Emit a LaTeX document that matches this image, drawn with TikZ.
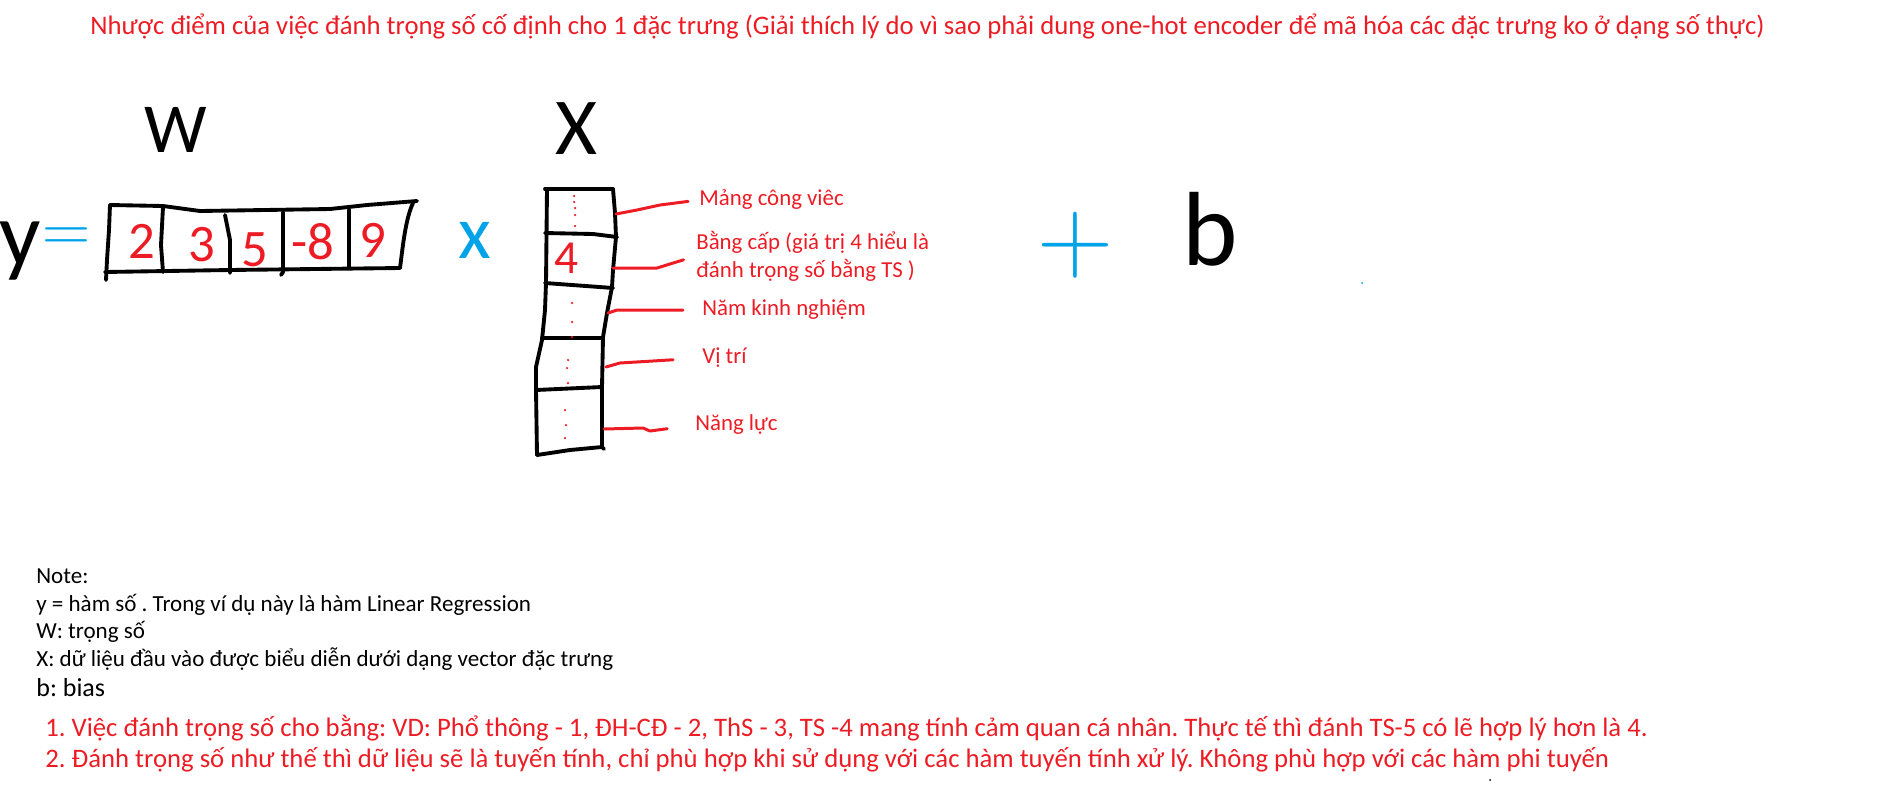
\documentclass[tikz,border=0pt]{standalone}
\usepackage{fontspec}
\setmainfont{Carlito}
\newfontfamily\thinfont{Latin Modern Roman}
\usepackage{xcolor}
\usepackage{tikz}
\usetikzlibrary{positioning, calc}
\definecolor{paintred}{RGB}{237,28,36}
\definecolor{paintblue}{RGB}{0,162,232}
\frenchspacing

\begin{document}
\begin{tikzpicture}[
		hand/.style={line width=2.2pt, line cap=round, line join=round},
		leader/.style={paintred, line width=1.7pt, line cap=round, line join=round},
		txt/.style={anchor=west, inner sep=0pt},
		lbl/.style={txt, paintred, font=\fontsize{13}{15.9}\selectfont},
		note/.style={txt, font=\fontsize{13.1}{16}\selectfont},
		big/.style={txt, paintred, font=\fontsize{15.2}{18}\selectfont},
		digit/.style={paintred, inner sep=0pt, font=\fontsize{30}{30}\selectfont},
		glyph/.style={inner sep=0pt}
	]
			\useasboundingbox (0,0) rectangle (37.74,-15.9);
			\node[big] (title) at (1.80,-0.52) {Nhược điểm của việc đánh trọng số cố định cho 1 đặc trưng (Giải thích lý do vì sao phải dung one-hot encoder để mã hóa các đặc trưng ko ở dạng số thực)};

			\node[glyph, font=\fontsize{40}{40}\selectfont] (wlbl) at (3.52,-2.60) {W};
			\node[glyph, font=\fontsize{46}{46}\selectfont] (xlbl) at (11.52,-2.58) {X};
			\node[glyph, font=\fontsize{52}{52}\selectfont] (ylbl) at (0.40,-5.02) {y};
			\node[glyph, paintblue, font=\thinfont\fontsize{38}{38}\selectfont] (eq) at (1.34,-4.80) {=};
			\node[glyph, paintblue, font=\fontsize{43}{43}\selectfont] (times) at (9.50,-4.80) {x};
			\node[glyph, paintblue, font=\thinfont\fontsize{60}{60}\selectfont] (plus) at (21.50,-4.90) {+};
			\node[glyph, font=\fontsize{60}{60}\selectfont] (blbl) at (24.20,-4.58) {b};

			\begin{scope}
				\draw[hand] (2.20,-4.10) -- (3.26,-4.12) -- (4.00,-4.22) -- (6.60,-4.18) -- (7.34,-4.10) -- (8.34,-4.02);
				\draw[hand] (8.26,-4.06) .. controls (8.10,-4.40) and (8.05,-5.00) .. (8.00,-5.36);
				\draw[hand] (2.10,-5.44) -- (4.60,-5.40) -- (8.00,-5.36);
				\draw[hand] (2.20,-4.10) -- (2.18,-4.60) -- (2.14,-5.20) -- (2.12,-5.60);
				\draw[hand] (3.26,-4.14) -- (3.22,-4.90) -- (3.26,-5.44);
				\draw[hand] (4.50,-4.30) -- (4.60,-4.80) -- (4.60,-5.46);
				\draw[hand] (5.66,-4.24) -- (5.66,-5.44) -- (5.62,-5.50);
				\draw[hand] (6.98,-4.20) -- (6.98,-5.34);
				\node[digit] (w1) at (2.83,-4.83) {2};
				\node[digit] (w2) at (4.04,-4.90) {3};
				\node[digit] (w3) at (5.10,-4.99) {5};
				\node[digit] (w4) at (6.26,-4.84) {-8};
				\node[digit] (w5) at (7.46,-4.80) {9};
			\end{scope}

			\begin{scope}
				\draw[hand] (10.90,-3.78) -- (12.26,-3.78);
				\draw[hand] (10.94,-3.78) -- (10.92,-5.66) -- (10.90,-6.20) -- (10.84,-6.80) -- (10.72,-7.34) -- (10.72,-7.80) -- (10.74,-9.10);
				\draw[hand] (12.26,-3.78) -- (12.30,-4.26) -- (12.32,-4.74) -- (12.26,-5.40) -- (12.24,-5.74) -- (12.14,-6.26) -- (12.06,-6.74) -- (12.04,-7.74) -- (12.04,-8.94);
				\draw[hand] (10.74,-9.10) -- (11.40,-9.00) -- (12.04,-8.94) -- (12.08,-8.98);
				\draw[hand] (10.90,-4.66) -- (11.86,-4.68) -- (12.34,-4.74);
				\draw[hand] (10.90,-5.66) -- (12.26,-5.76);
				\draw[hand] (10.84,-6.76) -- (12.04,-6.76);
				\draw[hand] (10.72,-7.80) -- (12.04,-7.74);
				\node[digit, font=\fontsize{27}{27}\selectfont] (x2v) at (11.34,-5.16) {4};
				\foreach \px/\py in {11.48/-3.92, 11.48/-4.04, 11.50/-4.16, 11.50/-4.30, 11.50/-4.52,
					11.44/-6.06, 11.44/-6.44, 11.44/-6.74, 11.36/-7.20, 11.34/-7.36, 11.36/-7.66,
					11.30/-8.20, 11.32/-8.50, 11.30/-8.76}
					\fill[paintred] (\px,\py) circle (0.025);
				\coordinate (x1) at (12.32,-4.28);
				\coordinate (x2) at (12.26,-5.36);
				\coordinate (x3) at (12.16,-6.26);
				\coordinate (x4) at (12.12,-7.34);
				\coordinate (x5) at (12.08,-8.58);
			\end{scope}

			\node[lbl] (mang) at (13.98,-4.00) {Mảng công viêc};
			\node[lbl, align=left] (bang) at (13.92,-5.12) {Bằng cấp (giá trị 4 hiểu là\\đánh trọng số bằng TS )};
			\node[lbl] (nam) at (14.04,-6.20) {Năm kinh nghiệm};
			\node[lbl] (vitri) at (14.04,-7.16) {Vị trí};
			\node[lbl] (nangluc) at (13.90,-8.50) {Năng lực};
			\draw[leader, shorten >=0.22cm] (x1) -- (12.74,-4.20) -- (13.20,-4.10) -- (mang.west);
			\draw[leader, shorten >=0.26cm] (x2) -- (13.14,-5.36) -- (bang.west);
			\draw[leader, shorten >=0.38cm] (x3) -- (12.34,-6.20) -- (nam.west);
			\draw[leader, shorten >=0.58cm] (x4) -- (12.40,-7.26) -- (vitri.west);
			\draw[leader, shorten >=0.56cm] (x5) -- (12.86,-8.56) -- (13.00,-8.62) -- (nangluc.west);

			\fill[paintblue] (27.24,-5.66) circle (0.02);
			\fill[black] (29.80,-15.60) circle (0.02);

			\node[note] (n0) at (0.72,-11.52) {Note:};
			\node[note] (n1) at (0.72,-12.10) {y = hàm số . Trong ví dụ này là hàm Linear Regression};
			\node[note] (n2) at (0.72,-12.64) {W: trọng số};
			\node[note] (n3) at (0.72,-13.18) {X: dữ liệu đầu vào được biểu diễn dưới dạng vector đặc trưng};
			\node[note, font=\fontsize{14.8}{17}\selectfont] (n4) at (0.72,-13.76) {b: bias};
			\node[big] (r1) at (0.90,-14.56) {1. Việc đánh trọng số cho bằng: VD: Phổ thông - 1, ĐH-CĐ - 2, ThS - 3, TS -4 mang tính cảm quan cá nhân. Thực tế thì đánh TS-5 có lẽ hợp lý hơn là 4.};
			\node[big] (r2) at (0.90,-15.20) {2. Đánh trọng số như thế thì dữ liệu sẽ là tuyến tính, chỉ phù hợp khi sử dụng với các hàm tuyến tính xử lý. Không phù hợp với các hàm phi tuyến};
		\end{tikzpicture}
\end{document}
